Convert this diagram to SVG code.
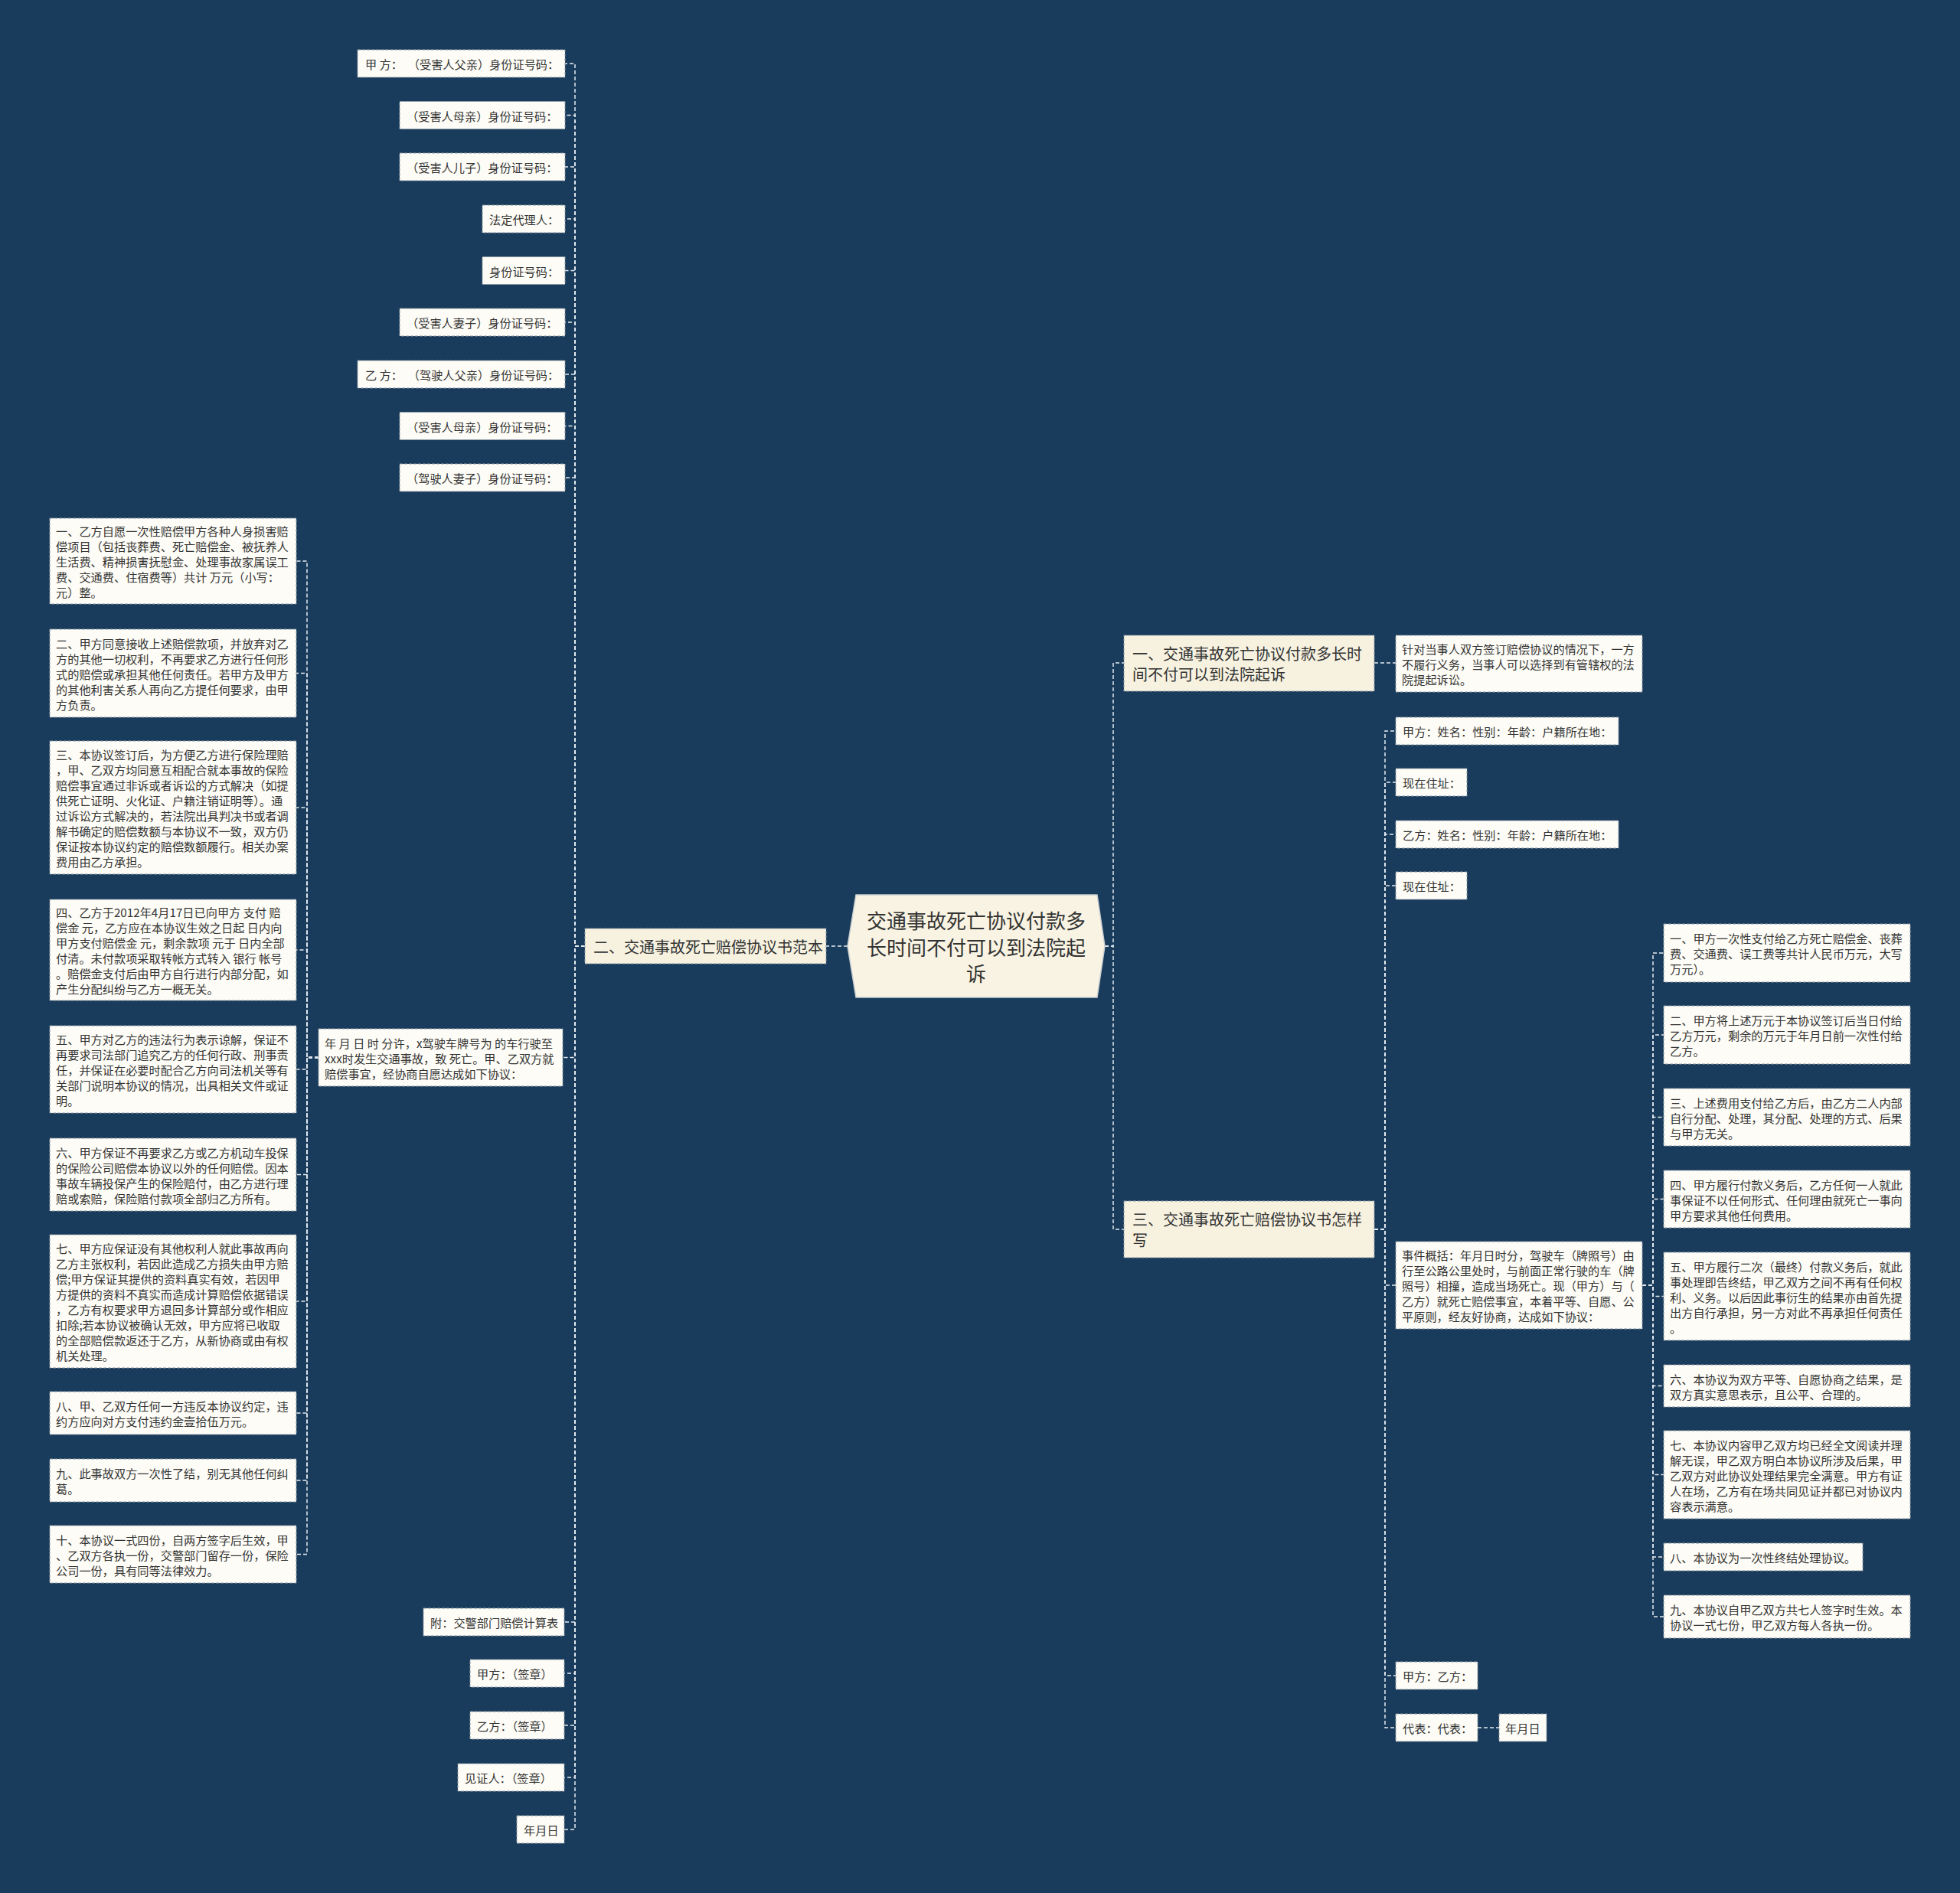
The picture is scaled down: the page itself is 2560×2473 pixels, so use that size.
<svg xmlns="http://www.w3.org/2000/svg" width="2560" height="2473" viewBox="0 0 2560 2473">
<style>
.bg{fill:#1a3c5c}
.leaf rect{fill:#fdfcf6;stroke:#8d9aa4;stroke-width:1;stroke-dasharray:4 2}
.branch rect{fill:#f7f2e0;stroke:#8d9aa4;stroke-width:1;stroke-dasharray:4 2}
.root polygon{fill:#f8f3e2;stroke:#c9ced2;stroke-width:1.5}
text{font-family:"Noto Sans CJK SC","Liberation Sans",sans-serif;fill:#333333;dominant-baseline:central}
.t{font-size:15.2px}
.b{font-size:20px}
.r{font-size:26px;text-anchor:middle}
.conn path{fill:none;stroke:#e4eaef;stroke-width:1.5;stroke-dasharray:5 3}
</style>
<rect class="bg" x="0" y="0" width="2560" height="2473"/>

<g class="conn">
<path d="M1107 1236H1079"/>
<path d="M1443 1236H1454V866H1468"/>
<path d="M1443 1236H1454V1606H1468"/>
<path d="M764 1236H751V83H738"/>
<path d="M764 1236H751V150.5H738"/>
<path d="M764 1236H751V218H738"/>
<path d="M764 1236H751V286H738"/>
<path d="M764 1236H751V353.5H738"/>
<path d="M764 1236H751V421H738"/>
<path d="M764 1236H751V489H738"/>
<path d="M764 1236H751V556.5H738"/>
<path d="M764 1236H751V624H738"/>
<path d="M764 1236H751V1381.5H735"/>
<path d="M764 1236H751V2119H737"/>
<path d="M764 1236H751V2186H737"/>
<path d="M764 1236H751V2254H737"/>
<path d="M764 1236H751V2322H737"/>
<path d="M764 1236H751V2390H737"/>
<path d="M416 1381.5H401V733H387"/>
<path d="M416 1381.5H401V879.5H387"/>
<path d="M416 1381.5H401V1055H387"/>
<path d="M416 1381.5H401V1241H387"/>
<path d="M416 1381.5H401V1397H387"/>
<path d="M416 1381.5H401V1534.5H387"/>
<path d="M416 1381.5H401V1700H387"/>
<path d="M416 1381.5H401V1846H387"/>
<path d="M416 1381.5H401V1934H387"/>
<path d="M416 1381.5H401V2030.5H387"/>
<path d="M1795 866H1823"/>
<path d="M1795 1606H1809V955H1823"/>
<path d="M1795 1606H1809V1022H1823"/>
<path d="M1795 1606H1809V1090H1823"/>
<path d="M1795 1606H1809V1157H1823"/>
<path d="M1795 1606H1809V1679H1823"/>
<path d="M1795 1606H1809V2189H1823"/>
<path d="M1795 1606H1809V2257H1823"/>
<path d="M2145 1679H2159V1245H2173"/>
<path d="M2145 1679H2159V1352H2173"/>
<path d="M2145 1679H2159V1459.5H2173"/>
<path d="M2145 1679H2159V1566.5H2173"/>
<path d="M2145 1679H2159V1693.5H2173"/>
<path d="M2145 1679H2159V1810.5H2173"/>
<path d="M2145 1679H2159V1926.5H2173"/>
<path d="M2145 1679H2159V2034H2173"/>
<path d="M2145 1679H2159V2112H2173"/>
<path d="M1930 2257H1958"/>
</g>

<g id="root" class="root">
<polygon points="1107,1236 1118,1169 1433,1169 1443,1236 1433,1303 1118,1303"/>
<text class="r" x="1275" y="1201.5">交通事故死亡协议付款多</text>
<text class="r" x="1275" y="1236">长时间不付可以到法院起</text>
<text class="r" x="1275" y="1270.5">诉</text>
</g>

<g id="b1" class="branch"><rect x="1468" y="830" width="327" height="73"/>
<text class="b" x="1479" y="853">一、交通事故死亡协议付款多长时</text>
<text class="b" x="1479" y="880">间不付可以到法院起诉</text></g>
<g id="b2" class="branch"><rect x="764" y="1213" width="315" height="46"/>
<text class="b" x="775" y="1236">二、交通事故死亡赔偿协议书范本</text></g>
<g id="b3" class="branch"><rect x="1468" y="1569" width="327" height="74"/>
<text class="b" x="1479" y="1592.5">三、交通事故死亡赔偿协议书怎样</text>
<text class="b" x="1479" y="1619.5">写</text></g>

<g id="t1" class="leaf"><rect x="467" y="65" width="271" height="36"/><text class="t" x="477" y="83" style="white-space:pre">甲 方：  （受害人父亲）身份证号码：</text></g>
<g id="t2" class="leaf"><rect x="522" y="132.5" width="216" height="36"/><text class="t" x="531" y="150.5">（受害人母亲）身份证号码：</text></g>
<g id="t3" class="leaf"><rect x="522" y="200" width="216" height="36"/><text class="t" x="531" y="218">（受害人儿子）身份证号码：</text></g>
<g id="t4" class="leaf"><rect x="630" y="268" width="108" height="36"/><text class="t" x="639" y="286">法定代理人：</text></g>
<g id="t5" class="leaf"><rect x="630" y="335.5" width="108" height="36"/><text class="t" x="639" y="353.5">身份证号码：</text></g>
<g id="t6" class="leaf"><rect x="522" y="403" width="216" height="36"/><text class="t" x="531" y="421">（受害人妻子）身份证号码：</text></g>
<g id="t7" class="leaf"><rect x="467" y="471" width="271" height="36"/><text class="t" x="477" y="489" style="white-space:pre">乙 方：  （驾驶人父亲）身份证号码：</text></g>
<g id="t8" class="leaf"><rect x="522" y="538.5" width="216" height="36"/><text class="t" x="531" y="556.5">（受害人母亲）身份证号码：</text></g>
<g id="t9" class="leaf"><rect x="522" y="606" width="216" height="36"/><text class="t" x="531" y="624">（驾驶人妻子）身份证号码：</text></g>

<g id="intro" class="leaf"><rect x="416" y="1344" width="319" height="75"/>
<text class="t" x="424" y="1361.5">年 月 日 时 分许，x驾驶车牌号为 的车行驶至</text>
<text class="t" x="424" y="1381.5">xxx时发生交通事故，致 死亡。甲、乙双方就</text>
<text class="t" x="424" y="1401.5">赔偿事宜，经协商自愿达成如下协议：</text></g>

<g id="l1" class="leaf"><rect x="65" y="677" width="322" height="112"/>
<text class="t" x="73" y="693">一、乙方自愿一次性赔偿甲方各种人身损害赔</text>
<text class="t" x="73" y="713">偿项目（包括丧葬费、死亡赔偿金、被抚养人</text>
<text class="t" x="73" y="733">生活费、精神损害抚慰金、处理事故家属误工</text>
<text class="t" x="73" y="753">费、交通费、住宿费等）共计 万元（小写：</text>
<text class="t" x="73" y="773">元）整。</text></g>
<g id="l2" class="leaf"><rect x="65" y="822" width="322" height="115"/>
<text class="t" x="73" y="839.5">二、甲方同意接收上述赔偿款项，并放弃对乙</text>
<text class="t" x="73" y="859.5">方的其他一切权利，不再要求乙方进行任何形</text>
<text class="t" x="73" y="879.5">式的赔偿或承担其他任何责任。若甲方及甲方</text>
<text class="t" x="73" y="899.5">的其他利害关系人再向乙方提任何要求，由甲</text>
<text class="t" x="73" y="919.5">方负责。</text></g>
<g id="l3" class="leaf"><rect x="65" y="968" width="322" height="174"/>
<text class="t" x="73" y="985">三、本协议签订后，为方便乙方进行保险理赔</text>
<text class="t" x="73" y="1005">，甲、乙双方均同意互相配合就本事故的保险</text>
<text class="t" x="73" y="1025">赔偿事宜通过非诉或者诉讼的方式解决（如提</text>
<text class="t" x="73" y="1045">供死亡证明、火化证、户籍注销证明等）。通</text>
<text class="t" x="73" y="1065">过诉讼方式解决的，若法院出具判决书或者调</text>
<text class="t" x="73" y="1085">解书确定的赔偿数额与本协议不一致，双方仍</text>
<text class="t" x="73" y="1105">保证按本协议约定的赔偿数额履行。相关办案</text>
<text class="t" x="73" y="1125">费用由乙方承担。</text></g>
<g id="l4" class="leaf"><rect x="65" y="1175" width="322" height="132"/>
<text class="t" x="73" y="1191">四、乙方于2012年4月17日已向甲方 支付 赔</text>
<text class="t" x="73" y="1211">偿金 元，乙方应在本协议生效之日起 日内向</text>
<text class="t" x="73" y="1231">甲方支付赔偿金 元，剩余款项 元于 日内全部</text>
<text class="t" x="73" y="1251">付清。未付款项采取转帐方式转入 银行 帐号</text>
<text class="t" x="73" y="1271">。赔偿金支付后由甲方自行进行内部分配，如</text>
<text class="t" x="73" y="1291">产生分配纠纷与乙方一概无关。</text></g>
<g id="l5" class="leaf"><rect x="65" y="1340" width="322" height="114"/>
<text class="t" x="73" y="1357">五、甲方对乙方的违法行为表示谅解，保证不</text>
<text class="t" x="73" y="1377">再要求司法部门追究乙方的任何行政、刑事责</text>
<text class="t" x="73" y="1397">任，并保证在必要时配合乙方向司法机关等有</text>
<text class="t" x="73" y="1417">关部门说明本协议的情况，出具相关文件或证</text>
<text class="t" x="73" y="1437">明。</text></g>
<g id="l6" class="leaf"><rect x="65" y="1487" width="322" height="95"/>
<text class="t" x="73" y="1504.5">六、甲方保证不再要求乙方或乙方机动车投保</text>
<text class="t" x="73" y="1524.5">的保险公司赔偿本协议以外的任何赔偿。因本</text>
<text class="t" x="73" y="1544.5">事故车辆投保产生的保险赔付，由乙方进行理</text>
<text class="t" x="73" y="1564.5">赔或索赔，保险赔付款项全部归乙方所有。</text></g>
<g id="l7" class="leaf"><rect x="65" y="1613" width="322" height="174"/>
<text class="t" x="73" y="1630">七、甲方应保证没有其他权利人就此事故再向</text>
<text class="t" x="73" y="1650">乙方主张权利，若因此造成乙方损失由甲方赔</text>
<text class="t" x="73" y="1670">偿;甲方保证其提供的资料真实有效，若因甲</text>
<text class="t" x="73" y="1690">方提供的资料不真实而造成计算赔偿依据错误</text>
<text class="t" x="73" y="1710">，乙方有权要求甲方退回多计算部分或作相应</text>
<text class="t" x="73" y="1730">扣除;若本协议被确认无效，甲方应将已收取</text>
<text class="t" x="73" y="1750">的全部赔偿款返还于乙方，从新协商或由有权</text>
<text class="t" x="73" y="1770">机关处理。</text></g>
<g id="l8" class="leaf"><rect x="65" y="1818" width="322" height="56"/>
<text class="t" x="73" y="1836">八、甲、乙双方任何一方违反本协议约定，违</text>
<text class="t" x="73" y="1856">约方应向对方支付违约金壹拾伍万元。</text></g>
<g id="l9" class="leaf"><rect x="65" y="1906" width="322" height="56"/>
<text class="t" x="73" y="1924">九、此事故双方一次性了结，别无其他任何纠</text>
<text class="t" x="73" y="1944">葛。</text></g>
<g id="l10" class="leaf"><rect x="65" y="1993" width="322" height="75"/>
<text class="t" x="73" y="2010.5">十、本协议一式四份，自两方签字后生效，甲</text>
<text class="t" x="73" y="2030.5">、乙双方各执一份，交警部门留存一份，保险</text>
<text class="t" x="73" y="2050.5">公司一份，具有同等法律效力。</text></g>

<g id="s1" class="leaf"><rect x="553" y="2101" width="184" height="36"/><text class="t" x="562" y="2119">附：交警部门赔偿计算表</text></g>
<g id="s2" class="leaf"><rect x="614" y="2168" width="123" height="36"/><text class="t" x="623" y="2186">甲方：（签章）</text></g>
<g id="s3" class="leaf"><rect x="614" y="2236" width="123" height="36"/><text class="t" x="623" y="2254">乙方：（签章）</text></g>
<g id="s4" class="leaf"><rect x="598" y="2304" width="139" height="36"/><text class="t" x="607" y="2322">见证人：（签章）</text></g>
<g id="s5" class="leaf"><rect x="675" y="2372" width="62" height="36"/><text class="t" x="684" y="2390">年月日</text></g>

<g id="a1" class="leaf"><rect x="1823" y="830" width="322" height="74"/>
<text class="t" x="1831" y="847">针对当事人双方签订赔偿协议的情况下，一方</text>
<text class="t" x="1831" y="867">不履行义务，当事人可以选择到有管辖权的法</text>
<text class="t" x="1831" y="887">院提起诉讼。</text></g>

<g id="c1" class="leaf"><rect x="1823" y="937" width="291" height="36"/><text class="t" x="1832" y="955">甲方：姓名：性别：年龄：户籍所在地：</text></g>
<g id="c2" class="leaf"><rect x="1823" y="1004" width="93" height="36"/><text class="t" x="1832" y="1022">现在住址：</text></g>
<g id="c3" class="leaf"><rect x="1823" y="1072" width="291" height="36"/><text class="t" x="1832" y="1090">乙方：姓名：性别：年龄：户籍所在地：</text></g>
<g id="c4" class="leaf"><rect x="1823" y="1139" width="93" height="36"/><text class="t" x="1832" y="1157">现在住址：</text></g>
<g id="c5" class="leaf"><rect x="1823" y="1622" width="322" height="114"/>
<text class="t" x="1831" y="1639">事件概括：年月日时分，驾驶车（牌照号）由</text>
<text class="t" x="1831" y="1659">行至公路公里处时，与前面正常行驶的车（牌</text>
<text class="t" x="1831" y="1679">照号）相撞，造成当场死亡。现（甲方）与（</text>
<text class="t" x="1831" y="1699">乙方）就死亡赔偿事宜，本着平等、自愿、公</text>
<text class="t" x="1831" y="1719">平原则，经友好协商，达成如下协议：</text></g>
<g id="c6" class="leaf"><rect x="1823" y="2171" width="107" height="36"/><text class="t" x="1832" y="2189">甲方：乙方：</text></g>
<g id="c7" class="leaf"><rect x="1823" y="2239" width="107" height="36"/><text class="t" x="1832" y="2257">代表：代表：</text></g>
<g id="c8" class="leaf"><rect x="1958" y="2239" width="62" height="36"/><text class="t" x="1966" y="2257">年月日</text></g>

<g id="r1" class="leaf"><rect x="2173" y="1207" width="322" height="76"/>
<text class="t" x="2181" y="1225">一、甲方一次性支付给乙方死亡赔偿金、丧葬</text>
<text class="t" x="2181" y="1245">费、交通费、误工费等共计人民币万元，大写</text>
<text class="t" x="2181" y="1265">万元）。</text></g>
<g id="r2" class="leaf"><rect x="2173" y="1314" width="322" height="76"/>
<text class="t" x="2181" y="1332">二、甲方将上述万元于本协议签订后当日付给</text>
<text class="t" x="2181" y="1352">乙方万元，剩余的万元于年月日前一次性付给</text>
<text class="t" x="2181" y="1372">乙方。</text></g>
<g id="r3" class="leaf"><rect x="2173" y="1422" width="322" height="75"/>
<text class="t" x="2181" y="1439.5">三、上述费用支付给乙方后，由乙方二人内部</text>
<text class="t" x="2181" y="1459.5">自行分配、处理，其分配、处理的方式、后果</text>
<text class="t" x="2181" y="1479.5">与甲方无关。</text></g>
<g id="r4" class="leaf"><rect x="2173" y="1529" width="322" height="75"/>
<text class="t" x="2181" y="1546.5">四、甲方履行付款义务后，乙方任何一人就此</text>
<text class="t" x="2181" y="1566.5">事保证不以任何形式、任何理由就死亡一事向</text>
<text class="t" x="2181" y="1586.5">甲方要求其他任何费用。</text></g>
<g id="r5" class="leaf"><rect x="2173" y="1636" width="322" height="115"/>
<text class="t" x="2181" y="1653.5">五、甲方履行二次（最终）付款义务后，就此</text>
<text class="t" x="2181" y="1673.5">事处理即告终结，甲乙双方之间不再有任何权</text>
<text class="t" x="2181" y="1693.5">利、义务。以后因此事衍生的结果亦由首先提</text>
<text class="t" x="2181" y="1713.5">出方自行承担，另一方对此不再承担任何责任</text>
<text class="t" x="2181" y="1733.5">。</text></g>
<g id="r6" class="leaf"><rect x="2173" y="1783" width="322" height="55"/>
<text class="t" x="2181" y="1800.5">六、本协议为双方平等、自愿协商之结果，是</text>
<text class="t" x="2181" y="1820.5">双方真实意思表示，且公平、合理的。</text></g>
<g id="r7" class="leaf"><rect x="2173" y="1869" width="322" height="115"/>
<text class="t" x="2181" y="1886.5">七、本协议内容甲乙双方均已经全文阅读并理</text>
<text class="t" x="2181" y="1906.5">解无误，甲乙双方明白本协议所涉及后果，甲</text>
<text class="t" x="2181" y="1926.5">乙双方对此协议处理结果完全满意。甲方有证</text>
<text class="t" x="2181" y="1946.5">人在场，乙方有在场共同见证并都已对协议内</text>
<text class="t" x="2181" y="1966.5">容表示满意。</text></g>
<g id="r8" class="leaf"><rect x="2173" y="2016" width="260" height="36"/><text class="t" x="2181" y="2034">八、本协议为一次性终结处理协议。</text></g>
<g id="r9" class="leaf"><rect x="2173" y="2084" width="322" height="56"/>
<text class="t" x="2181" y="2102">九、本协议自甲乙双方共七人签字时生效。本</text>
<text class="t" x="2181" y="2122">协议一式七份，甲乙双方每人各执一份。</text></g>
</svg>
